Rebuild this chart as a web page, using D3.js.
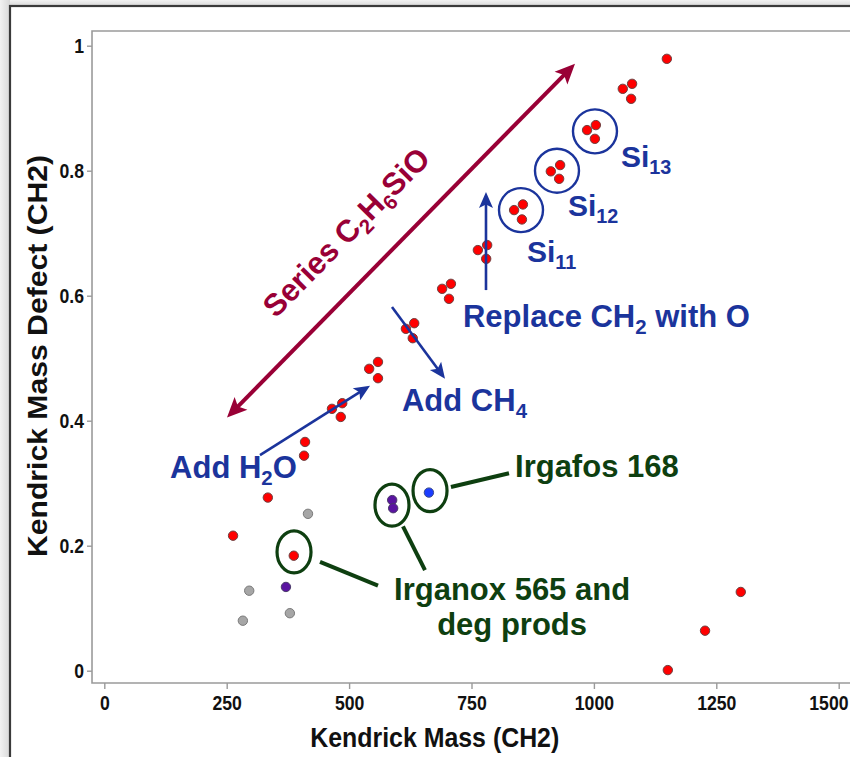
<!DOCTYPE html>
<html>
<head>
<meta charset="utf-8">
<script src="https://cdn.jsdelivr.net/npm/d3@7"></script>
<style>
  body { margin: 0; background: #fff; }
  svg { display: block; }
</style>
</head>
<body>
<svg id="chart" width="850" height="757"></svg>
<script>
// ---- axis ticks ----
const xTicks = [0, 250, 500, 750, 1000, 1250, 1500];
const xTickLabels = ["0", "250", "500", "750", "1000", "1250", "1500"];
const yTicks = [0, 0.2, 0.4, 0.6, 0.8, 1];
const yTickLabels = ["0", "0.2", "0.4", "0.6", "0.8", "1"];

// ---- siloxane series and other red features ----
const redMass = [263, 334, 387, 408, 410, 465, 486, 483, 541, 559, 559, 616, 633, 630,
                 690, 708, 704, 763, 782, 780, 837, 855, 853, 912, 931, 929, 986, 1004,
                 1002, 1059, 1078, 1076, 1149, 1300, 1227, 1151];
const redDefect = [0.216, 0.277, 0.184, 0.344, 0.366, 0.419, 0.428, 0.406, 0.483, 0.494,
                   0.468, 0.547, 0.556, 0.532, 0.611, 0.619, 0.595, 0.673, 0.681, 0.659,
                   0.737, 0.746, 0.722, 0.799, 0.809, 0.787, 0.865, 0.873, 0.851, 0.931,
                   0.939, 0.915, 0.979, 0.126, 0.064, 0.001];
// ---- unassigned (grey) ----
const greyMass = [416, 296, 379, 283];
const greyDefect = [0.251, 0.128, 0.092, 0.080];
// ---- Irganox 565 and degradation products (purple) ----
const purpleMass = [371, 588, 590];
const purpleDefect = [0.134, 0.273, 0.260];
// ---- Irgafos 168 (blue) ----
const blueMass = [663];
const blueDefect = [0.285];

// ---- annotation anchors, in axis units ----
const seriesArrow = [[250.6, 0.405], [961.4, 0.971]];
const seriesLabelAt = [493.7, 0.702];
const waterArrow = [[318, 0.345], [542.7, 0.456]];
const methaneArrow = [[587.6, 0.582], [695.9, 0.467]];
const replaceArrow = [[779.6, 0.609], [779.6, 0.766]];
const siCircles = [[851.1, 0.737], [924.6, 0.800], [1002.2, 0.863]];
const siLabels = [[863.3, 0.654, "11"], [947, 0.727, "12"], [1055.3, 0.806, "13"]];
const greenEllipses = [[387.5, 0.190], [587.6, 0.265], [665.3, 0.288]];
const greenLeaders = [
  [[440.6, 0.174], [559, 0.136]],
  [[610, 0.231], [655, 0.161]],
  [[708, 0.294], [826.6, 0.316]]
];

const svg = d3.select("#chart");
const W = 850, H = 757;

const x = d3.scaleLinear().domain([0, 1500]).range([104.3, 838.7]);
const y = d3.scaleLinear().domain([0, 1]).range([670.7, 45.7]);

const BLUE = "#1b349c", GREEN = "#0e3f10", MAROON = "#990036", AXIS = "#9a9a9a";
const LABEL_FONT = "'Liberation Sans', Arial, sans-serif";
const NARROW = 0.84; // horizontal squeeze of the tick lettering

// ---- slide frame ----
const defs = svg.append("defs");
const gTop = defs.append("linearGradient").attr("id", "shadeTop").attr("x1", 0).attr("y1", 0).attr("x2", 0).attr("y2", 1);
gTop.append("stop").attr("offset", 0).attr("stop-color", "#f2f2f2");
gTop.append("stop").attr("offset", 1).attr("stop-color", "#d8d8d8");
const gLeft = defs.append("linearGradient").attr("id", "shadeLeft").attr("x1", 0).attr("y1", 0).attr("x2", 1).attr("y2", 0);
gLeft.append("stop").attr("offset", 0).attr("stop-color", "#f2f2f2");
gLeft.append("stop").attr("offset", 1).attr("stop-color", "#d8d8d8");
svg.append("rect").attr("width", W).attr("height", H).attr("fill", "#fff");
svg.append("rect").attr("x", 0).attr("y", 0).attr("width", W).attr("height", 6).attr("fill", "url(#shadeTop)");
svg.append("rect").attr("x", 0).attr("y", 0).attr("width", 10).attr("height", H).attr("fill", "url(#shadeLeft)");
svg.append("rect").attr("x", 10).attr("y", 6).attr("width", W + 20).attr("height", H + 20)
  .attr("fill", "#fff").attr("stroke", "#3a3a3a").attr("stroke-width", 2.2);

// ---- plot box ----
const boxLeft = x(-25.1), boxRight = W + 10, boxTop = y(1.0235), boxBottom = y(-0.0197);
svg.append("path")
  .attr("d", `M${boxRight},${boxTop}H${boxLeft}V${boxBottom}H${boxRight}`)
  .attr("fill", "none").attr("stroke", AXIS).attr("stroke-width", 1.6);

// y axis
const yAxis = d3.axisLeft(y).tickValues(yTicks).tickSize(5).tickPadding(3)
  .tickFormat((d, i) => yTickLabels[i]);
const yg = svg.append("g").attr("transform", `translate(${boxLeft},0)`).call(yAxis);
yg.select(".domain").remove();
yg.selectAll(".tick line").attr("stroke", AXIS).attr("stroke-width", 1.4);
yg.selectAll(".tick text").attr("font-family", LABEL_FONT).attr("font-weight", "bold")
  .attr("font-size", 21).attr("fill", "#111")
  .attr("x", -8 / NARROW).attr("transform", `scale(${NARROW},1)`);

// x axis
const xAxis = d3.axisBottom(x).tickValues(xTicks).tickSize(6).tickPadding(5)
  .tickFormat((d, i) => xTickLabels[i]);
const xg = svg.append("g").attr("transform", `translate(0,${boxBottom})`).call(xAxis);
xg.select(".domain").remove();
xg.selectAll(".tick line").attr("stroke", AXIS).attr("stroke-width", 1.4);
xg.selectAll(".tick text").attr("font-family", LABEL_FONT).attr("font-weight", "bold")
  .attr("font-size", 21).attr("fill", "#111").attr("y", 12)
  .attr("transform", `scale(${NARROW},1)`);
// keep the last label inside the slide's right edge
xg.selectAll(".tick text").filter(d => d === xTicks[xTicks.length - 1])
  .attr("text-anchor", "end").attr("x", (W - 2 - x(xTicks[xTicks.length - 1])) / NARROW);

// axis titles
svg.append("text").attr("x", x(675)).attr("y", 747).attr("text-anchor", "middle")
  .attr("font-family", LABEL_FONT).attr("font-weight", "bold").attr("font-size", 27)
  .attr("textLength", 249).attr("lengthAdjust", "spacingAndGlyphs")
  .attr("fill", "#111").text("Kendrick Mass (CH2)");
svg.append("text").attr("transform", `translate(47,356) rotate(-90)`)
  .attr("text-anchor", "middle")
  .attr("font-family", LABEL_FONT).attr("font-weight", "bold").attr("font-size", 28)
  .attr("textLength", 402).attr("lengthAdjust", "spacingAndGlyphs")
  .attr("fill", "#111").text("Kendrick Mass Defect (CH2)");

// ---- data points ----
function drawPoints(mass, defect, fill, stroke) {
  svg.append("g").selectAll("circle")
    .data(mass.map((m, i) => [m, defect[i]]))
    .join("circle")
    .attr("cx", d => x(d[0])).attr("cy", d => y(d[1])).attr("r", 4.7)
    .attr("fill", fill).attr("stroke", stroke).attr("stroke-width", 1);
}
drawPoints(greyMass, greyDefect, "#a6a6a6", "#7a7a7a");
drawPoints(purpleMass, purpleDefect, "#5a14a0", "#4a3a6a");
drawPoints(blueMass, blueDefect, "#1b3cff", "#3a4a8a");
drawPoints(redMass, redDefect, "#ff0000", "#6e4040");

// ---- annotations ----
function arrowHead(g, p0, p1, len, half, color) {
  const ang = Math.atan2(p1[1] - p0[1], p1[0] - p0[0]);
  const c = Math.cos(ang), s = Math.sin(ang);
  const bx = p1[0] - c * len, by = p1[1] - s * len;
  g.append("path")
    .attr("d", `M${p1[0]},${p1[1]}L${bx - s * half},${by + c * half}L${bx + c * len * 0.22},${by + s * len * 0.22}L${bx + s * half},${by - c * half}Z`)
    .attr("fill", color);
}
function arrow(pts, color, width, len, half, both) {
  const g = svg.append("g");
  const a = [x(pts[0][0]), y(pts[0][1])], b = [x(pts[1][0]), y(pts[1][1])];
  const ang = Math.atan2(b[1] - a[1], b[0] - a[0]);
  const c = Math.cos(ang), s = Math.sin(ang);
  const a2 = both ? [a[0] + c * len * 0.7, a[1] + s * len * 0.7] : a;
  const b2 = [b[0] - c * len * 0.7, b[1] - s * len * 0.7];
  g.append("line").attr("x1", a2[0]).attr("y1", a2[1]).attr("x2", b2[0]).attr("y2", b2[1])
    .attr("stroke", color).attr("stroke-width", width);
  arrowHead(g, a, b, len, half, color);
  if (both) arrowHead(g, b, a, len, half, color);
}

// label with subscript parts: [[text, isSub], ...]
function richText(sel, parts, size) {
  let prevSub = false;
  parts.forEach(([t, sub]) => {
    const ts = sel.append("tspan").text(t);
    if (sub) ts.attr("font-size", size * 0.66).attr("dy", size * 0.22);
    else if (prevSub) ts.attr("dy", -size * 0.22);
    prevSub = sub;
  });
  return sel;
}

// C2H6SiO series
arrow(seriesArrow, MAROON, 4, 20, 9, true);
const sAng = Math.atan2(y(seriesArrow[1][1]) - y(seriesArrow[0][1]), x(seriesArrow[1][0]) - x(seriesArrow[0][0])) * 180 / Math.PI;
richText(
  svg.append("text")
    .attr("transform", `translate(${x(seriesLabelAt[0])},${y(seriesLabelAt[1])}) rotate(${sAng})`)
    .attr("text-anchor", "middle").attr("dy", "0.35em")
    .attr("font-family", LABEL_FONT).attr("font-weight", "bold").attr("font-size", 31)
    .attr("fill", MAROON),
  [["Series C", false], ["2", true], ["H", false], ["6", true], ["SiO", false]], 31);

// reaction arrows
arrow(waterArrow, BLUE, 2.6, 16, 7, false);
arrow(methaneArrow, BLUE, 2.6, 16, 7, false);
arrow(replaceArrow, BLUE, 2.6, 16, 7, false);

function blueLabel(pos, parts) {
  richText(svg.append("text").attr("x", x(pos[0])).attr("y", y(pos[1]))
    .attr("font-family", LABEL_FONT).attr("font-weight", "bold").attr("font-size", 31)
    .attr("fill", BLUE), parts, 31);
}
blueLabel([134.4, 0.308], [["Add H", false], ["2", true], ["O", false]]);
blueLabel([608, 0.416], [["Add CH", false], ["4", true]]);
blueLabel([732.6, 0.550], [["Replace CH", false], ["2", true], [" with O", false]]);

// Si_n oligomer circles
svg.append("g").selectAll("circle").data(siCircles).join("circle")
  .attr("cx", d => x(d[0])).attr("cy", d => y(d[1])).attr("r", 22)
  .attr("fill", "none").attr("stroke", BLUE).attr("stroke-width", 2.4);
siLabels.forEach(d => {
  richText(svg.append("text").attr("x", x(d[0])).attr("y", y(d[1]))
    .attr("font-family", LABEL_FONT).attr("font-weight", "bold").attr("font-size", 30)
    .attr("fill", BLUE), [["Si", false], [d[2], true]], 30);
});

// additive call-outs
svg.append("g").selectAll("ellipse").data(greenEllipses).join("ellipse")
  .attr("cx", d => x(d[0])).attr("cy", d => y(d[1])).attr("rx", 17).attr("ry", 21)
  .attr("fill", "none").attr("stroke", GREEN).attr("stroke-width", 3.2);
svg.append("g").selectAll("line").data(greenLeaders).join("line")
  .attr("x1", d => x(d[0][0])).attr("y1", d => y(d[0][1]))
  .attr("x2", d => x(d[1][0])).attr("y2", d => y(d[1][1]))
  .attr("stroke", GREEN).attr("stroke-width", 4);

function greenLabel(px, py, anchor, txt) {
  svg.append("text").attr("x", x(px)).attr("y", y(py)).attr("text-anchor", anchor)
    .attr("font-family", LABEL_FONT).attr("font-weight", "bold").attr("font-size", 31)
    .attr("fill", GREEN).text(txt);
}
greenLabel(838.9, 0.310, "start", "Irgafos 168");
greenLabel(832.9, 0.113, "middle", "Irganox 565 and");
greenLabel(832.9, 0.057, "middle", "deg prods");
</script>
</body>
</html>
